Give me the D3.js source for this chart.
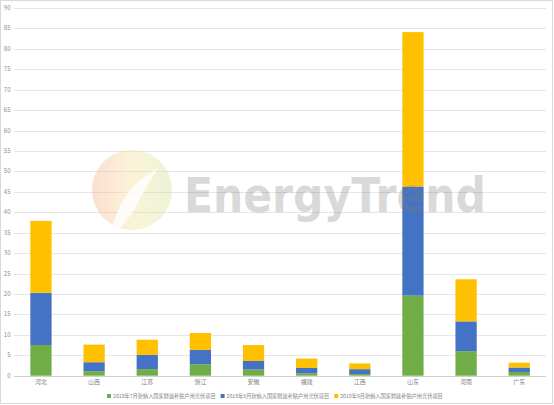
<!DOCTYPE html>
<html><head><meta charset="utf-8">
<script src="https://cdn.jsdelivr.net/npm/d3@7"></script>
<style>html,body{margin:0;padding:0;background:#fff;}svg{display:block;}</style>
</head><body>
<svg id="c" width="554" height="405"></svg>
<script>
const categories = ["河北","山西","江苏","浙江","安徽","福建","江西","山东","河南","广东"];
const seriesNames = ["2019年7月新纳入国家财政补贴户用光伏项目","2019年8月新纳入国家财政补贴户用光伏项目","2019年9月新纳入国家财政补贴户用光伏项目"];
const july = [7.5, 1.1, 1.6, 2.8, 1.5, 0.6, 0.4, 19.6, 6.0, 0.9];
const aug  = [12.8, 2.2, 3.5, 3.5, 2.1, 1.3, 1.2, 26.7, 7.3, 1.1];
const sep  = [17.6, 4.3, 3.7, 4.15, 3.9, 2.3, 1.4, 37.8, 10.3, 1.2];
const yTicks = [0,5,10,15,20,25,30,35,40,45,50,55,60,65,70,75,80,85,90];
const colors = ["#70ad47","#4472c4","#ffc000"];

const svg = d3.select("#c");
const font = "'Noto Sans CJK SC','Microsoft YaHei',sans-serif";

// outer border
svg.append("rect").attr("x",0.5).attr("y",0.5).attr("width",552).attr("height",403)
  .attr("fill","#fff").attr("stroke","#d9d9d9");

const x = d3.scaleBand().domain(categories).range([14.4, 545.8]).paddingInner(0.6).paddingOuter(0.3);
const y = d3.scaleLinear().domain([0,90]).range([375.7, 8]);

// gridlines
svg.append("g").selectAll("line").data(yTicks).join("line")
  .attr("x1",14).attr("x2",546)
  .attr("y1",d=>Math.round(y(d))+0.5).attr("y2",d=>Math.round(y(d))+0.5)
  .attr("stroke",d=>d===0?"#d0d0d0":"#e6e6e6").attr("stroke-width",1);

// y tick labels
svg.append("g").selectAll("text").data(yTicks).join("text")
  .attr("x",10.5).attr("y",d=>y(d)+2)
  .attr("text-anchor","end").attr("font-family",font).attr("font-size",6)
  .attr("fill","#8c8c8c").text(d=>d);

// stacked data
const rows = categories.map((c,i)=>({cat:c, s0:july[i], s1:aug[i], s2:sep[i]}));
const stack = d3.stack().keys(["s0","s1","s2"])(rows);

svg.append("g").selectAll("g").data(stack).join("g")
  .attr("fill",(d,i)=>colors[i])
  .selectAll("rect").data(d=>d).join("rect")
  .attr("x",d=>x(d.data.cat))
  .attr("width",x.bandwidth())
  .attr("y",d=>y(d[1]))
  .attr("height",d=>y(d[0])-y(d[1]));

// x labels
svg.append("g").selectAll("text").data(categories).join("text")
  .attr("x",d=>x(d)+x.bandwidth()/2).attr("y",384)
  .attr("text-anchor","middle").attr("font-family",font).attr("font-size",6)
  .attr("fill","#7f7f7f").text(d=>d);

// legend
const lg = svg.append("g");
let lx = 107;
seriesNames.forEach((n,i)=>{
  lg.append("rect").attr("x",lx).attr("y",394).attr("width",4).attr("height",4).attr("fill",colors[i]);
  const t = lg.append("text").attr("x",lx+6).attr("y",398.2).attr("font-family",font)
    .attr("font-size",5.2).attr("fill","#7f7f7f").text(n);
  lx += 6 + t.node().getComputedTextLength() + 5;
});

// watermark (EnergyTrend)
const wm = svg.append("g").attr("pointer-events","none");
const defs = svg.append("defs");
const grad = defs.append("linearGradient").attr("id","lg1").attr("x1","0").attr("x2","1").attr("y1","0").attr("y2","0");
grad.append("stop").attr("offset","0").attr("stop-color","#f6b08a");
grad.append("stop").attr("offset","0.5").attr("stop-color","#f3e2a0");
grad.append("stop").attr("offset","1").attr("stop-color","#cfe39a");
wm.append("circle").attr("cx",132).attr("cy",190).attr("r",40).attr("fill","url(#lg1)").attr("opacity",0.4);
wm.append("path").attr("d","M112,228 C120,200 130,185 158,168 C140,195 135,215 118,230 Z").attr("fill","#fff").attr("opacity",0.8);
wm.append("text").attr("x",184).attr("y",212).attr("font-family","'DejaVu Sans',sans-serif")
  .attr("font-weight","bold")
  .attr("font-size",48).attr("fill","#7a7a7a").attr("opacity",0.28).attr("textLength",302)
  .attr("lengthAdjust","spacingAndGlyphs").text("EnergyTrend");
</script>
</body></html>
